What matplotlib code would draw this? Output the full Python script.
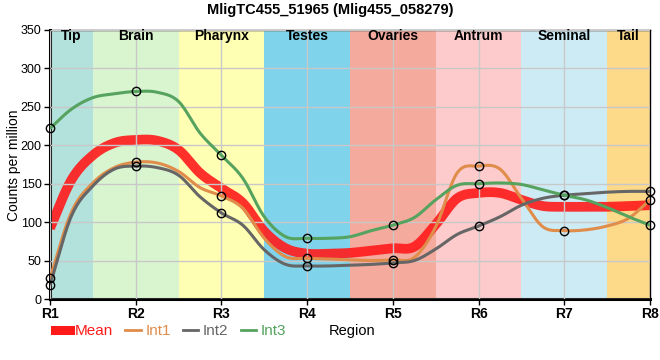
import numpy as np
import matplotlib
matplotlib.use("Agg")
import matplotlib.pyplot as plt
from matplotlib.lines import Line2D

plt.rcParams['font.family'] = ['Liberation Sans', 'DejaVu Sans']

title = "MligTC455_51965 (Mlig455_058279)"
regions = ["R1", "R2", "R3", "R4", "R5", "R6", "R7", "R8"]
tissues = ["Tip", "Brain", "Pharynx", "Testes", "Ovaries", "Antrum", "Seminal", "Tail"]
tissue_colors = ["#b3e2dd", "#d9f5d0", "#ffffb3", "#7fd3ea", "#f4aa9c", "#fdcbcb", "#cdebf5", "#fdd98a"]

# values at the regions (markers)
int1 = [27, 178, 134, 53, 51, 173, 89, 129]
int2 = [18, 173, 112, 43, 47, 95, 135, 140]
int3 = [222, 270, 187, 79, 96, 150, 135, 96]
mean = [92, 207, 144, 59, 66, 138, 120, 122]

# smoothed curves, every quarter region
mean_curve = [92, 155, 187, 203, 207, 206, 194, 164, 144, 125, 88, 66, 59, 59, 60, 63, 66,
              68, 97, 131, 138, 138, 129, 121, 120, 120, 120, 121, 122]
int1_curve = [27, 113, 151, 171, 178, 177, 166, 145, 134, 118, 79, 55, 53, 52, 51, 50, 51,
              54, 94, 164, 173, 169, 131, 94, 89, 90, 95, 105, 129]
int2_curve = [18, 108, 147, 169, 173, 171, 161, 133, 112, 96, 64, 45, 43, 43, 44, 45, 47,
              50, 65, 84, 95, 107, 122, 131, 135, 137, 139, 140, 140]
int3_curve = [222, 247, 262, 267, 270, 269, 257, 216, 187, 157, 107, 81, 79, 79, 81, 89, 96,
              106, 129, 148, 150, 151, 149, 142, 135, 129, 119, 107, 96]

series = [("Mean", mean, mean_curve, "#ff1a1a", 7.0, 0.9, False),
          ("Int1", int1, int1_curve, "#e08c4a", 2.2, 1.0, True),
          ("Int2", int2, int2_curve, "#666666", 2.2, 1.0, True),
          ("Int3", int3, int3_curve, "#55a35f", 2.2, 1.0, True)]


def smooth_curve(x, y, n=16):
    """Catmull-Rom style cubic Hermite through every point."""
    x = np.asarray(x, float); y = np.asarray(y, float)
    m = len(x)
    t = np.zeros(m)
    t[1:-1] = (y[2:] - y[:-2]) / (x[2:] - x[:-2])
    t[0] = (y[1] - y[0]) / (x[1] - x[0])
    t[-1] = (y[-1] - y[-2]) / (x[-1] - x[-2])
    xs, ys = [], []
    for i in range(m - 1):
        x0, x1, y0, y1 = x[i], x[i + 1], y[i], y[i + 1]
        dx = (x1 - x0) / 3
        P = np.array([[x0, y0], [x0 + dx, y0 + dx * t[i]], [x1 - dx, y1 - dx * t[i + 1]], [x1, y1]])
        u = np.linspace(0, 1, n)[:, None]
        B = ((1 - u) ** 3) * P[0] + 3 * ((1 - u) ** 2) * u * P[1] + 3 * (1 - u) * u ** 2 * P[2] + u ** 3 * P[3]
        xs.extend(B[:, 0]); ys.extend(B[:, 1])
    return np.array(xs), np.array(ys)


fig = plt.figure(figsize=(6.6, 3.6), dpi=100)
ax = fig.add_axes([50 / 660, 61 / 360, 600 / 660, 269 / 360])
xpos = np.arange(len(regions))
curve_pos = np.linspace(0, len(regions) - 1, len(mean_curve))
ax.set_xlim(0, len(regions) - 1)
ax.set_ylim(0, 350)

for i, (name, col) in enumerate(zip(tissues, tissue_colors)):
    lo = max(i - 0.5, 0); hi = min(i + 0.5, len(regions) - 1)
    ax.axvspan(lo, hi, color=col, zorder=0, lw=0)
    ax.text((lo + hi) / 2, 342, name, ha="center", va="center", fontsize=10, fontweight="bold", zorder=5)

ax.set_yticks(range(0, 351, 50))
ax.set_xticks(xpos)
ax.set_xticklabels(regions, fontweight="bold", fontsize=10)
ax.grid(True, color="#c8c8c8", lw=1, zorder=1)
ax.set_axisbelow(False)
for gl in ax.get_xgridlines() + ax.get_ygridlines():
    gl.set_zorder(1)
ax.tick_params(axis="y", labelsize=9, length=4, width=1, pad=2)
ax.tick_params(axis="x", length=4, width=1, pad=2)
for sp in ["left", "bottom"]:
    ax.spines[sp].set_linewidth(2.2)
for sp in ["top", "right"]:
    ax.spines[sp].set_linewidth(1)

handles = []
for k, (name, vals, curve, col, lw, a, mk) in enumerate(series):
    xs, ys = smooth_curve(curve_pos, curve)
    ax.plot(xs, ys, color=col, lw=lw, alpha=a, zorder=2 + k, solid_capstyle="butt")
    if mk:
        ax.plot(xpos, vals, "o", ms=6, mfc="none", mec="black", mew=1, zorder=10, clip_on=False)
    handles.append(Line2D([0], [0], color=col, lw=(6.5 if name == "Mean" else 2), label=name))

fig.text(14 / 660, 1 - 165 / 360, "Counts per million", rotation=90, ha="center", va="center", fontsize=10)
fig.text(352 / 660, 1 - 331 / 360, "Region", ha="center", va="center", fontsize=10.5)
fig.suptitle(title, x=0.5, y=1 - 10 / 360, va="center", fontsize=10.5, fontweight="bold")

leg = fig.legend(handles=handles, loc="center left", bbox_to_anchor=(55 / 660, 1 - 331 / 360), ncol=4,
                 frameon=False, fontsize=11, handlelength=1.0, handletextpad=0.3, columnspacing=0.8,
                 labelcolor="linecolor", borderaxespad=0, borderpad=0)

fig.savefig("out.png", dpi=100)
